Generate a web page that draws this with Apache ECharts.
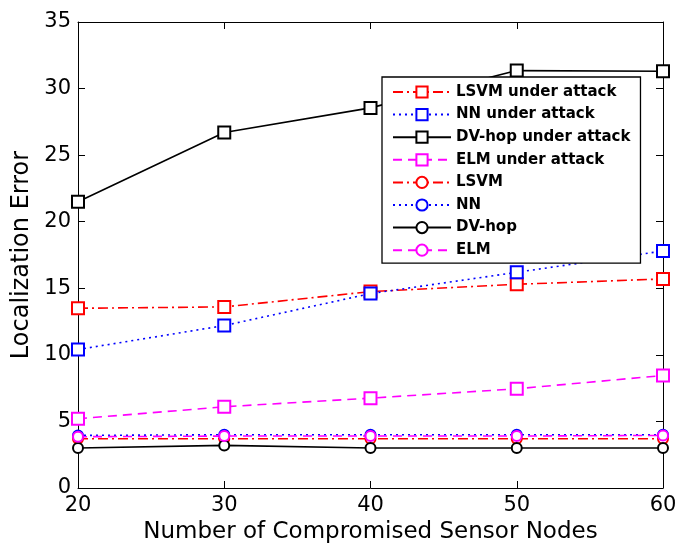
<!DOCTYPE html>
<html>
<head>
<meta charset="utf-8">
<script src="https://cdn.jsdelivr.net/npm/echarts@6/dist/echarts.min.js"></script>
<style>
  html, body { margin: 0; padding: 0; background: #fff; }
  #chart { width: 676px; height: 543px; }
</style>
</head>
<body>
<div id="chart"></div>
<script>
// x values: number of compromised sensor nodes
const nodes = [20, 30, 40, 50, 60];

// localization error
const lsvmAttack = [13.5, 13.6, 14.75, 15.3, 15.7];
const nnAttack = [10.4, 12.2, 14.6, 16.2, 17.8];
const dvhopAttack = [21.5, 26.7, 28.55, 31.35, 31.3];
const elmAttack = [5.2, 6.1, 6.75, 7.45, 8.45];
const lsvm = [3.7, 3.7, 3.7, 3.7, 3.7];
const nn = [3.95, 4.0, 4.0, 4.0, 4.0];
const dvhop = [3.0, 3.2, 3.0, 3.0, 3.0];
const elm = [3.85, 3.9, 3.9, 3.9, 3.95];

const font = 'DejaVu Sans, Verdana, sans-serif';

// 把x和y组合成点
const pts = (ys) => nodes.map((x, i) => [x, ys[i]]);

const mkSeries = (name, data, color, dash, symbol, size) => ({
  name: name,
  type: 'line',
  data: pts(data),
  symbol: symbol,
  symbolSize: size,
  showSymbol: true,
  lineStyle: { color: color, width: 1.6, type: dash },
  itemStyle: { color: color, borderColor: color, borderWidth: 1.8 },
  emphasis: { disabled: true },
  animation: false
});

const dashDot = [10, 4, 2, 4];
const dotted = [2, 4];
const dashed = [9, 6];

const chart = echarts.init(document.getElementById('chart'));
chart.setOption({
  backgroundColor: '#fff',
  animation: false,
  grid: { left: 78, right: 13, top: 22, bottom: 55, outerBoundsMode: 'none', containLabel: false },
  legend: {
    orient: 'vertical',
    left: 382,
    top: 77,
    width: 258,
    padding: [7, 10, 5, 10],
    backgroundColor: '#fff',
    borderColor: '#000',
    borderWidth: 1.3,
    itemWidth: 58,
    itemHeight: 14,
    itemGap: 6.6,
    selectedMode: false,
    textStyle: { fontFamily: font, fontSize: 15, fontWeight: 'bold', color: '#000', lineHeight: 16 }
  },
  xAxis: [{
    type: 'value', min: 20, max: 60, interval: 10,
    name: 'Number of Compromised Sensor Nodes', nameLocation: 'middle', nameGap: 30,
    nameTextStyle: { fontFamily: font, fontSize: 23, color: '#000' },
    axisLine: { lineStyle: { color: '#000', width: 1 } },
    axisTick: { inside: true, length: 7, lineStyle: { color: '#000' } },
    axisLabel: { fontFamily: font, fontSize: 21, color: '#000', margin: 7 },
    splitLine: { show: false }
  }, {
    type: 'value', min: 20, max: 60, interval: 10, position: 'top',
    axisLine: { onZero: false, lineStyle: { color: '#000', width: 1 } },
    axisTick: { inside: true, length: 7, lineStyle: { color: '#000' } },
    axisLabel: { show: false },
    splitLine: { show: false }
  }],
  yAxis: [{
    type: 'value', min: 0, max: 35, interval: 5,
    name: 'Localization Error', nameLocation: 'middle', nameGap: 41,
    nameTextStyle: { fontFamily: font, fontSize: 24, color: '#000' },
    axisLine: { show: true, lineStyle: { color: '#000', width: 1 } },
    axisTick: { show: true, inside: true, length: 7, lineStyle: { color: '#000' } },
    axisLabel: { fontFamily: font, fontSize: 21, color: '#000', margin: 7 },
    splitLine: { show: false }
  }, {
    type: 'value', min: 0, max: 35, interval: 5, position: 'right',
    axisLine: { show: true, onZero: false, lineStyle: { color: '#000', width: 1 } },
    axisTick: { show: true, inside: true, length: 7, lineStyle: { color: '#000' } },
    axisLabel: { show: false },
    splitLine: { show: false }
  }],
  series: [
    mkSeries('LSVM under attack', lsvmAttack, '#ff0000', dashDot, 'emptyRect', 12),
    mkSeries('NN under attack', nnAttack, '#0000ff', dotted, 'emptyRect', 12),
    mkSeries('DV-hop under attack', dvhopAttack, '#000000', 'solid', 'emptyRect', 12),
    mkSeries('ELM under attack', elmAttack, '#ff00ff', dashed, 'emptyRect', 12),
    mkSeries('LSVM', lsvm, '#ff0000', dashDot, 'emptyCircle', 10),
    mkSeries('NN', nn, '#0000ff', dotted, 'emptyCircle', 10),
    mkSeries('DV-hop', dvhop, '#000000', 'solid', 'emptyCircle', 10),
    mkSeries('ELM', elm, '#ff00ff', dashed, 'emptyCircle', 10)
  ]
});
</script>
</body>
</html>
